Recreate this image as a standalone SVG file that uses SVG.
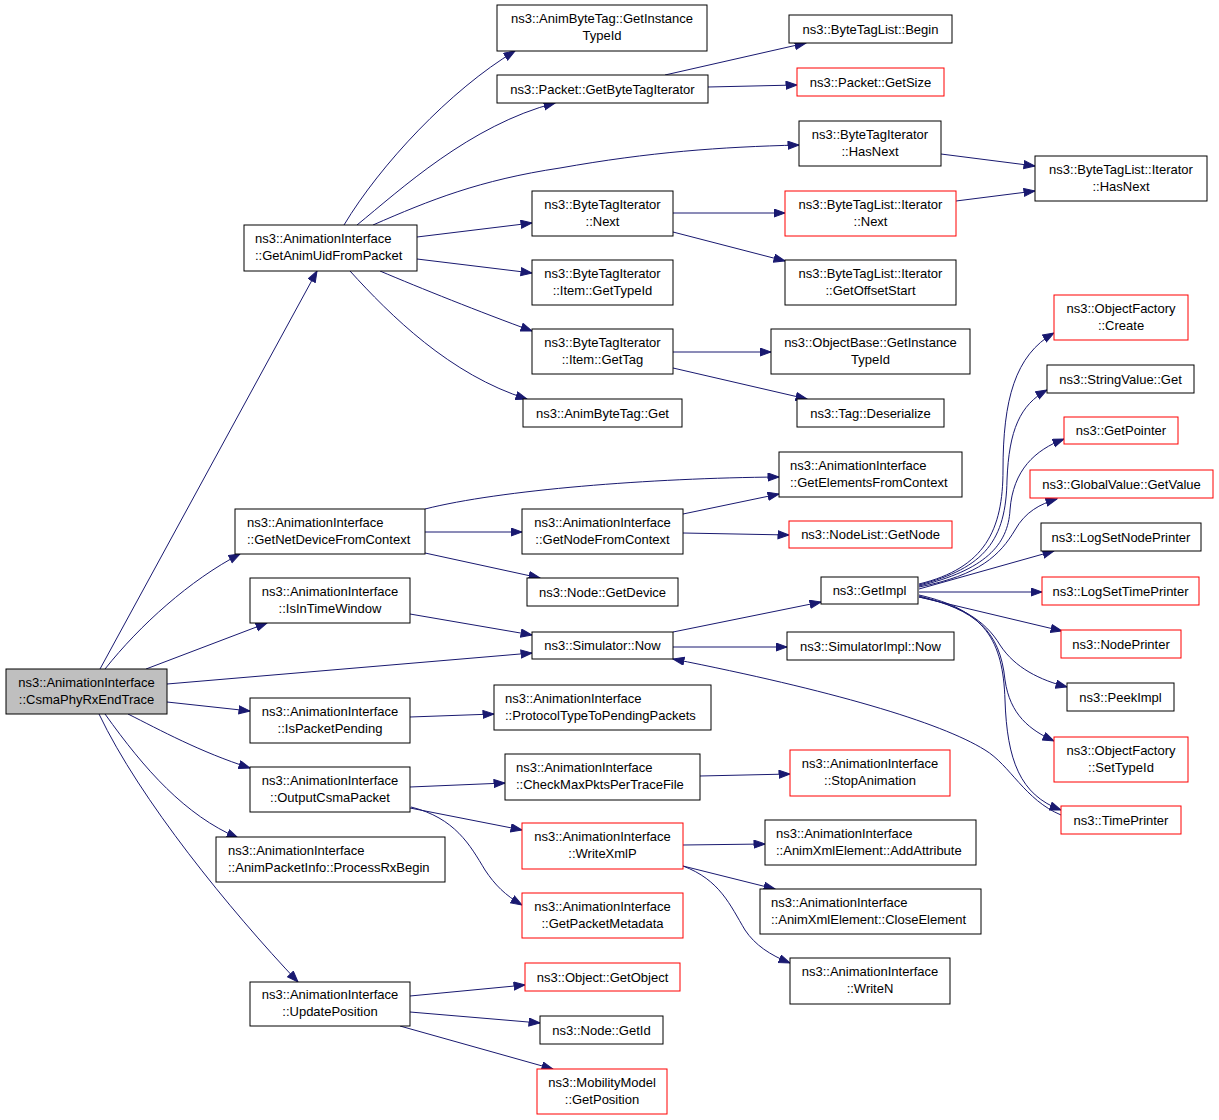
<svg xmlns="http://www.w3.org/2000/svg" width="1219" height="1120" viewBox="0 0 1219 1120">
<style>
.node rect{fill:#fff;stroke:#000;stroke-width:1}
.node.red rect{stroke:#ff0000}
.node.root rect{fill:#bfbfbf}
text{font-family:"Liberation Sans",Arial,Helvetica,sans-serif;font-size:13px;fill:#000}
.c{text-anchor:middle}
#edges path{fill:none;stroke:#191970;stroke-width:1;marker-end:url(#arr)}
</style>
<defs>
<marker id="arr" markerWidth="13" markerHeight="10" refX="11.5" refY="4.5" orient="auto" markerUnits="userSpaceOnUse">
<path d="M0.5,0.5 L11.5,4.5 L0.5,8.5 z" fill="#191970" stroke="#191970" stroke-width="1"/>
</marker>
</defs>
<rect width="1219" height="1120" fill="#fff"/>
<g id="edges">
<path d="M100,669 L317,271"/>
<path d="M105,669 C140,625 190,580 240,554"/>
<path d="M146,669 L267,623"/>
<path d="M167,684 L532,653"/>
<path d="M167,702 L250,711"/>
<path d="M128,714 C160,730 200,752 250,768"/>
<path d="M105,714 C145,770 185,815 238,838"/>
<path d="M99,714 C140,800 230,910 298,982"/>
<path d="M344,225 C380,165 450,90 515,51"/>
<path d="M357,225 C400,190 470,125 555,103"/>
<path d="M373,225 C430,200 480,180 560,168 C650,152 720,147 799,145"/>
<path d="M417,237 L532,223"/>
<path d="M417,259 L532,273"/>
<path d="M380,271 C420,288 480,312 532,331"/>
<path d="M350,271 C390,315 450,375 527,399"/>
<path d="M665,75 L806,43"/>
<path d="M708,87 L797,85"/>
<path d="M941,154 L1035,166"/>
<path d="M673,213 L785,213"/>
<path d="M673,232 L785,261"/>
<path d="M956,201 L1035,191"/>
<path d="M673,352 L771,352"/>
<path d="M673,368 L807,399"/>
<path d="M425,509 C500,490 650,478 779,477"/>
<path d="M425,532 L522,532"/>
<path d="M425,553 L540,578"/>
<path d="M683,514 L779,494"/>
<path d="M683,533 L789,535"/>
<path d="M410,614 L532,635"/>
<path d="M673,632 L821,602"/>
<path d="M673,647 L787,647"/>
<path d="M1061,815 C1025,800 1010,765 985,750 C940,722 830,690 673,659"/>
<path d="M919,584 C985,568 1003,530 1003,470 C1003,400 1015,355 1054,333"/>
<path d="M919,585 C985,568 1006,540 1007,480 C1009,430 1020,405 1047,390"/>
<path d="M919,586 C985,570 1008,545 1010,510 C1013,470 1035,450 1064,439"/>
<path d="M919,587 C980,575 1000,555 1015,530 C1025,512 1040,504 1057,499"/>
<path d="M919,589 L1054,551"/>
<path d="M919,592 L1042,592"/>
<path d="M919,597 L1062,631"/>
<path d="M919,597 C960,605 985,620 1000,645 C1015,668 1040,680 1067,687"/>
<path d="M919,596 C975,610 1000,630 1005,680 C1010,715 1030,730 1054,741"/>
<path d="M919,595 C985,610 1003,640 1005,700 C1007,760 1020,795 1061,810"/>
<path d="M410,717 L494,714"/>
<path d="M410,787 L505,783"/>
<path d="M410,808 L522,830"/>
<path d="M411,807 C455,818 470,845 485,870 C495,885 505,895 522,905"/>
<path d="M700,776 L790,774"/>
<path d="M683,845 L765,844"/>
<path d="M683,866 L775,889"/>
<path d="M683,866 C720,880 730,905 745,930 C755,945 770,955 790,963"/>
<path d="M410,996 L525,985"/>
<path d="M410,1012 L540,1023"/>
<path d="M400,1026 L553,1069"/>
</g>
<g id="n_root" class="node root"><rect x="6" y="669" width="161" height="45"/><text class="c" x="86.5" y="686.5">ns3::AnimationInterface</text><text class="c" x="86.5" y="703.5">::CsmaPhyRxEndTrace</text></g>
<g id="n_getanimuid" class="node"><rect x="244" y="225" width="173" height="46"/><text x="255" y="242.5">ns3::AnimationInterface</text><text x="255" y="259.5">::GetAnimUidFromPacket</text></g>
<g id="n_abt_git" class="node"><rect x="497" y="5" width="210" height="46"/><text class="c" x="602" y="22.5">ns3::AnimByteTag::GetInstance</text><text class="c" x="602" y="39.5">TypeId</text></g>
<g id="n_pkt_gbti" class="node"><rect x="497" y="75" width="211" height="28"/><text class="c" x="602.5" y="93.5">ns3::Packet::GetByteTagIterator</text></g>
<g id="n_btl_begin" class="node"><rect x="789" y="15" width="163" height="28"/><text class="c" x="870.5" y="33.5">ns3::ByteTagList::Begin</text></g>
<g id="n_pkt_size" class="node red"><rect x="797" y="68" width="147" height="28"/><text class="c" x="870.5" y="86.5">ns3::Packet::GetSize</text></g>
<g id="n_bti_hasnext" class="node"><rect x="799" y="121" width="142" height="45"/><text class="c" x="870" y="138.5">ns3::ByteTagIterator</text><text class="c" x="870" y="155.5">::HasNext</text></g>
<g id="n_btli_hasnext" class="node"><rect x="1035" y="156" width="172" height="45"/><text class="c" x="1121" y="173.5">ns3::ByteTagList::Iterator</text><text class="c" x="1121" y="190.5">::HasNext</text></g>
<g id="n_bti_next" class="node"><rect x="532" y="191" width="141" height="45"/><text class="c" x="602.5" y="208.5">ns3::ByteTagIterator</text><text class="c" x="602.5" y="225.5">::Next</text></g>
<g id="n_btli_next" class="node red"><rect x="785" y="191" width="171" height="45"/><text class="c" x="870.5" y="208.5">ns3::ByteTagList::Iterator</text><text class="c" x="870.5" y="225.5">::Next</text></g>
<g id="n_item_gettypeid" class="node"><rect x="532" y="260" width="141" height="45"/><text class="c" x="602.5" y="277.5">ns3::ByteTagIterator</text><text class="c" x="602.5" y="294.5">::Item::GetTypeId</text></g>
<g id="n_btli_offset" class="node"><rect x="785" y="260" width="171" height="45"/><text class="c" x="870.5" y="277.5">ns3::ByteTagList::Iterator</text><text class="c" x="870.5" y="294.5">::GetOffsetStart</text></g>
<g id="n_item_gettag" class="node"><rect x="532" y="329" width="141" height="45"/><text class="c" x="602.5" y="346.5">ns3::ByteTagIterator</text><text class="c" x="602.5" y="363.5">::Item::GetTag</text></g>
<g id="n_ob_git" class="node"><rect x="771" y="329" width="199" height="45"/><text class="c" x="870.5" y="346.5">ns3::ObjectBase::GetInstance</text><text class="c" x="870.5" y="363.5">TypeId</text></g>
<g id="n_abt_get" class="node"><rect x="523" y="399" width="159" height="28"/><text class="c" x="602.5" y="417.5">ns3::AnimByteTag::Get</text></g>
<g id="n_tag_deser" class="node"><rect x="797" y="399" width="147" height="28"/><text class="c" x="870.5" y="417.5">ns3::Tag::Deserialize</text></g>
<g id="n_of_create" class="node red"><rect x="1054" y="295" width="134" height="45"/><text class="c" x="1121" y="312.5">ns3::ObjectFactory</text><text class="c" x="1121" y="329.5">::Create</text></g>
<g id="n_sv_get" class="node"><rect x="1047" y="365" width="147" height="28"/><text class="c" x="1120.5" y="383.5">ns3::StringValue::Get</text></g>
<g id="n_getpointer" class="node red"><rect x="1064" y="417" width="114" height="27"/><text class="c" x="1121" y="435">ns3::GetPointer</text></g>
<g id="n_gv_getvalue" class="node red"><rect x="1030" y="470" width="183" height="28"/><text class="c" x="1121.5" y="488.5">ns3::GlobalValue::GetValue</text></g>
<g id="n_lsnp" class="node"><rect x="1041" y="523" width="160" height="28"/><text class="c" x="1121" y="541.5">ns3::LogSetNodePrinter</text></g>
<g id="n_lstp" class="node red"><rect x="1042" y="577" width="157" height="28"/><text class="c" x="1120.5" y="595.5">ns3::LogSetTimePrinter</text></g>
<g id="n_nodeprinter" class="node red"><rect x="1061" y="630" width="120" height="28"/><text class="c" x="1121" y="648.5">ns3::NodePrinter</text></g>
<g id="n_peekimpl" class="node"><rect x="1067" y="683" width="107" height="28"/><text class="c" x="1120.5" y="701.5">ns3::PeekImpl</text></g>
<g id="n_of_settypeid" class="node red"><rect x="1054" y="737" width="134" height="45"/><text class="c" x="1121" y="754.5">ns3::ObjectFactory</text><text class="c" x="1121" y="771.5">::SetTypeId</text></g>
<g id="n_timeprinter" class="node red"><rect x="1061" y="806" width="120" height="28"/><text class="c" x="1121" y="824.5">ns3::TimePrinter</text></g>
<g id="n_getelements" class="node"><rect x="779" y="452" width="183" height="45"/><text x="790" y="469.5">ns3::AnimationInterface</text><text x="790" y="486.5">::GetElementsFromContext</text></g>
<g id="n_getnetdevice" class="node"><rect x="235" y="509" width="190" height="45"/><text x="247" y="526.5">ns3::AnimationInterface</text><text x="247" y="543.5">::GetNetDeviceFromContext</text></g>
<g id="n_getnode" class="node"><rect x="522" y="509" width="161" height="45"/><text class="c" x="602.5" y="526.5">ns3::AnimationInterface</text><text class="c" x="602.5" y="543.5">::GetNodeFromContext</text></g>
<g id="n_nodelist" class="node red"><rect x="789" y="521" width="163" height="27"/><text class="c" x="870.5" y="539">ns3::NodeList::GetNode</text></g>
<g id="n_getdevice" class="node"><rect x="527" y="578" width="151" height="28"/><text class="c" x="602.5" y="596.5">ns3::Node::GetDevice</text></g>
<g id="n_isintime" class="node"><rect x="250" y="578" width="160" height="45"/><text class="c" x="330" y="595.5">ns3::AnimationInterface</text><text class="c" x="330" y="612.5">::IsInTimeWindow</text></g>
<g id="n_simnow" class="node"><rect x="532" y="632" width="141" height="27"/><text class="c" x="602.5" y="650">ns3::Simulator::Now</text></g>
<g id="n_getimpl" class="node"><rect x="821" y="577" width="97" height="27"/><text class="c" x="869.5" y="595">ns3::GetImpl</text></g>
<g id="n_simimplnow" class="node"><rect x="787" y="632" width="167" height="28"/><text class="c" x="870.5" y="650.5">ns3::SimulatorImpl::Now</text></g>
<g id="n_ispending" class="node"><rect x="250" y="698" width="160" height="45"/><text class="c" x="330" y="715.5">ns3::AnimationInterface</text><text class="c" x="330" y="732.5">::IsPacketPending</text></g>
<g id="n_proto" class="node"><rect x="494" y="685" width="217" height="45"/><text x="505" y="702.5">ns3::AnimationInterface</text><text x="505" y="719.5">::ProtocolTypeToPendingPackets</text></g>
<g id="n_outputcsma" class="node"><rect x="250" y="767" width="160" height="45"/><text class="c" x="330" y="784.5">ns3::AnimationInterface</text><text class="c" x="330" y="801.5">::OutputCsmaPacket</text></g>
<g id="n_checkmax" class="node"><rect x="505" y="754" width="195" height="46"/><text x="516" y="771.5">ns3::AnimationInterface</text><text x="516" y="788.5">::CheckMaxPktsPerTraceFile</text></g>
<g id="n_stopanim" class="node red"><rect x="790" y="750" width="160" height="46"/><text class="c" x="870" y="767.5">ns3::AnimationInterface</text><text class="c" x="870" y="784.5">::StopAnimation</text></g>
<g id="n_writexmlp" class="node red"><rect x="522" y="823" width="161" height="46"/><text class="c" x="602.5" y="840.5">ns3::AnimationInterface</text><text class="c" x="602.5" y="857.5">::WriteXmlP</text></g>
<g id="n_addattr" class="node"><rect x="765" y="820" width="211" height="45"/><text x="776" y="837.5">ns3::AnimationInterface</text><text x="776" y="854.5">::AnimXmlElement::AddAttribute</text></g>
<g id="n_processrx" class="node"><rect x="216" y="837" width="229" height="45"/><text x="228" y="854.5">ns3::AnimationInterface</text><text x="228" y="871.5">::AnimPacketInfo::ProcessRxBegin</text></g>
<g id="n_getmeta" class="node red"><rect x="522" y="893" width="161" height="45"/><text class="c" x="602.5" y="910.5">ns3::AnimationInterface</text><text class="c" x="602.5" y="927.5">::GetPacketMetadata</text></g>
<g id="n_closeel" class="node"><rect x="760" y="889" width="221" height="45"/><text x="771" y="906.5">ns3::AnimationInterface</text><text x="771" y="923.5">::AnimXmlElement::CloseElement</text></g>
<g id="n_writen" class="node"><rect x="790" y="958" width="160" height="46"/><text class="c" x="870" y="975.5">ns3::AnimationInterface</text><text class="c" x="870" y="992.5">::WriteN</text></g>
<g id="n_updatepos" class="node"><rect x="250" y="982" width="160" height="44"/><text class="c" x="330" y="998.5">ns3::AnimationInterface</text><text class="c" x="330" y="1015.5">::UpdatePosition</text></g>
<g id="n_getobject" class="node red"><rect x="525" y="963" width="155" height="28"/><text class="c" x="602.5" y="981.5">ns3::Object::GetObject</text></g>
<g id="n_getid" class="node"><rect x="540" y="1016" width="123" height="28"/><text class="c" x="601.5" y="1034.5">ns3::Node::GetId</text></g>
<g id="n_getpos" class="node red"><rect x="537" y="1069" width="130" height="45"/><text class="c" x="602" y="1086.5">ns3::MobilityModel</text><text class="c" x="602" y="1103.5">::GetPosition</text></g>
</svg>
